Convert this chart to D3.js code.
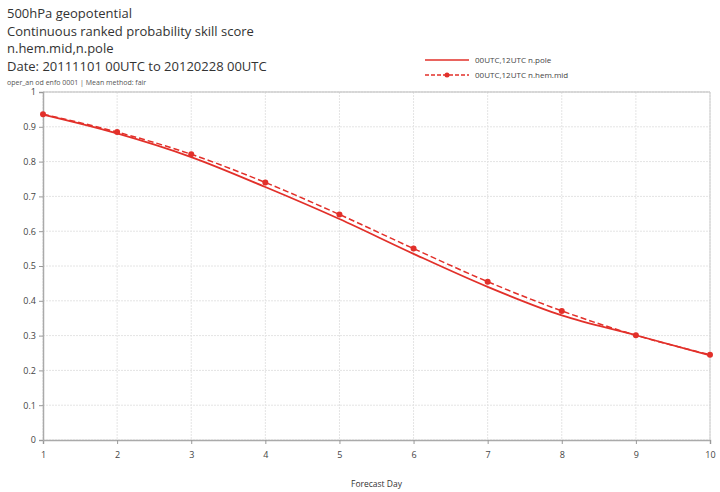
<!DOCTYPE html>
<html>
<head>
<meta charset="utf-8">
<script src="https://cdn.jsdelivr.net/npm/d3@7"></script>
<style>
  body { margin: 0; background: #fff; }
  svg { display: block; font-family: "Open Sans", "Noto Sans", sans-serif; }
</style>
</head>
<body>
<div id="chart"></div>
<script>
// forecast days and scores
const days = [1, 2, 3, 4, 5, 6, 7, 8, 9, 10];
const nPole = [0.935, 0.881, 0.813, 0.727, 0.635, 0.535, 0.44, 0.358, 0.301, 0.243];
const nHemMid = [0.936, 0.885, 0.821, 0.74, 0.648, 0.55, 0.455, 0.371, 0.301, 0.245];
const yTicks = [0, 0.1, 0.2, 0.3, 0.4, 0.5, 0.6, 0.7, 0.8, 0.9, 1];
const titleLines = [
    "500hPa geopotential",
    "Continuous ranked probability skill score",
    "n.hem.mid,n.pole",
    "Date: 20111101 00UTC to 20120228 00UTC"
];
const subTitle = "oper_an od enfo 0001 | Mean method: fair";
const seriesNames = ["00UTC,12UTC n.pole", "00UTC,12UTC n.hem.mid"];

const red = "#e2302a";
const width = 720, height = 492;
const margin = { left: 43, right: 10, top: 92, bottom: 52 };
const w = width - margin.left - margin.right;
const h = height - margin.top - margin.bottom;

const svg = d3.select("#chart").append("svg")
    .attr("width", width)
    .attr("height", height);

// titles
svg.selectAll("text.title")
    .data(titleLines)
    .enter()
    .append("text")
    .attr("class", "title")
    .attr("x", 7)
    .attr("y", (d, i) => 18 + i * 17.7)
    .style("font-size", "13px")
    .style("fill", "#333")
    .text(d => d);

svg.append("text")
    .attr("x", 7)
    .attr("y", 84.5)
    .style("font-size", "7px")
    .style("fill", "#555")
    .text(subTitle);

const g = svg.append("g")
    .attr("transform", `translate(${margin.left}, ${margin.top})`);

const xScale = d3.scaleLinear().domain([1, 10]).range([0, w]);
const yScale = d3.scaleLinear().domain([0, 1]).range([h, 0]);

// grid
g.append("g")
    .selectAll("line")
    .data(yTicks)
    .enter()
    .append("line")
    .attr("x1", 0).attr("x2", w)
    .attr("y1", d => yScale(d)).attr("y2", d => yScale(d))
    .attr("stroke", "#e4e4e4")
    .attr("stroke-dasharray", "2 1");

g.append("g")
    .selectAll("line")
    .data(days)
    .enter()
    .append("line")
    .attr("x1", d => xScale(d)).attr("x2", d => xScale(d))
    .attr("y1", 0).attr("y2", h)
    .attr("stroke", "#e4e4e4")
    .attr("stroke-dasharray", "2 1");

// frame top and right
g.append("line")
    .attr("x1", 0).attr("x2", w).attr("y1", 0).attr("y2", 0)
    .attr("stroke", "#bbb");
g.append("line")
    .attr("x1", w).attr("x2", w).attr("y1", 0).attr("y2", h)
    .attr("stroke", "#ccc");

// axes
const xAxis = g.append("g")
    .attr("transform", `translate(0, ${h})`)
    .call(d3.axisBottom(xScale).tickValues(days).tickFormat(d3.format("d")).tickSize(4));
const yAxis = g.append("g")
    .call(d3.axisLeft(yScale).tickValues(yTicks).tickFormat(d => d === 0 || d === 1 ? d : d3.format(".1f")(d)).tickSize(4));

[xAxis, yAxis].forEach(a => {
    a.select(".domain").attr("stroke", "#aaa").attr("stroke-width", 1.5);
    a.selectAll(".tick line").attr("stroke", "#999");
    a.selectAll(".tick text")
        .style("font-family", "Open Sans, sans-serif")
        .style("font-size", "9px")
        .style("fill", "#444");
});
xAxis.selectAll(".tick text").attr("dy", "1.2em");

svg.append("text")
    .attr("x", margin.left + w / 2)
    .attr("y", 487)
    .attr("text-anchor", "middle")
    .style("font-size", "8.5px")
    .style("fill", "#333")
    .text("Forecast Day");

// lines
const line = d3.line()
    .x((d, i) => xScale(days[i]))
    .y(d => yScale(d))
    .curve(d3.curveMonotoneX);

g.append("path")
    .datum(nHemMid)
    .attr("fill", "none")
    .attr("stroke", red)
    .attr("stroke-width", 1.5)
    .attr("stroke-dasharray", "6 3")
    .attr("d", line);

g.append("path")
    .datum(nPole)
    .attr("fill", "none")
    .attr("stroke", red)
    .attr("stroke-width", 1.8)
    .attr("d", line);

g.selectAll("circle.mk")
    .data(nHemMid)
    .enter()
    .append("circle")
    .attr("class", "mk")
    .attr("cx", (d, i) => xScale(days[i]))
    .attr("cy", d => yScale(d))
    .attr("r", 3)
    .attr("fill", red);

// legend
const legend = svg.append("g").attr("transform", "translate(425, 60)");
legend.append("line")
    .attr("x1", 0).attr("x2", 44).attr("y1", 0).attr("y2", 0)
    .attr("stroke", red).attr("stroke-width", 1.5);
legend.append("line")
    .attr("x1", 0).attr("x2", 44).attr("y1", 15).attr("y2", 15)
    .attr("stroke", red).attr("stroke-width", 1.5)
    .attr("stroke-dasharray", "4 2");
legend.append("circle")
    .attr("cx", 22).attr("cy", 15).attr("r", 2.5)
    .attr("fill", red);
legend.selectAll("text")
    .data(seriesNames)
    .enter()
    .append("text")
    .attr("x", 50)
    .attr("y", (d, i) => i * 15 + 3)
    .style("font-size", "8px")
    .style("fill", "#444")
    .text(d => d);
</script>
</body>
</html>
